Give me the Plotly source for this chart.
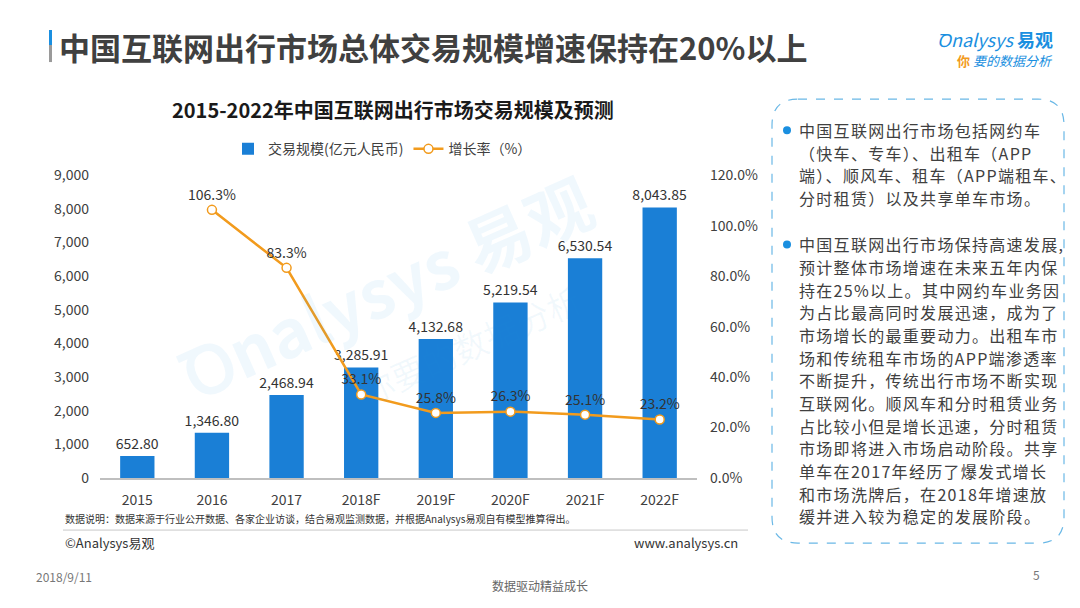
import plotly.graph_objects as go

W, H = 1080, 608

years = ["2015", "2016", "2017", "2018F", "2019F", "2020F", "2021F", "2022F"]
scale_values = [652.80, 1346.80, 2468.94, 3285.91, 4132.68, 5219.54, 6530.54, 8043.85]
growth_rates = [None, 1.063, 0.833, 0.331, 0.258, 0.263, 0.251, 0.232]

left_ticks = [0, 1000, 2000, 3000, 4000, 5000, 6000, 7000, 8000, 9000]
right_ticks = [0, 0.2, 0.4, 0.6, 0.8, 1.0, 1.2]

bar_name = "交易规模(亿元人民币)"
line_name = "增长率（%）"

page_title = "中国互联网出行市场总体交易规模增速保持在20%以上"
chart_title = "2015-2022年中国互联网出行市场交易规模及预测"
note_text = "数据说明：数据来源于行业公开数据、各家企业访谈，结合易观监测数据，并根据Analysys易观自有模型推算得出。"

bullet1_lines = [
    "中国互联网出行市场包括网约车",
    "（快车、专车）、出租车（APP",
    "端）、顺风车、租车（APP端租车、",
    "分时租赁）以及共享单车市场。",
]
bullet2_lines = [
    "中国互联网出行市场保持高速发展,",
    "预计整体市场增速在未来五年内保",
    "持在25%以上。其中网约车业务因",
    "为占比最高同时发展迅速，成为了",
    "市场增长的最重要动力。出租车市",
    "场和传统租车市场的APP端渗透率",
    "不断提升，传统出行市场不断实现",
    "互联网化。顺风车和分时租赁业务",
    "占比较小但是增长迅速，分时租赁",
    "市场即将进入市场启动阶段。共享",
    "单车在2017年经历了爆发式增长",
    "和市场洗牌后，在2018年增速放",
    "缓并进入较为稳定的发展阶段。",
]

FONT = "Microsoft YaHei, Noto Sans CJK SC, sans-serif"
TXT = "#404040"
BLUE = "#1a7fd6"
ORANGE = "#f29b1d"


def px(x):
    return x / W


def py(y):
    # vertical placement (target pixel -> paper fraction), compensating capture offset
    return 1 - (y / 0.965 - 12.5) / H


fig = go.Figure()

fig.add_trace(go.Bar(
    x=years, y=scale_values, name=bar_name,
    marker=dict(color=BLUE, line=dict(width=0)),
    width=0.46,
    texttemplate="%{y:,.2f}", textposition="outside", constraintext="none",
    textfont=dict(size=14, color="#333333", family=FONT),
    cliponaxis=False,
))

fig.add_trace(go.Scatter(
    x=years, y=growth_rates, name=line_name, yaxis="y2",
    mode="lines+markers+text",
    line=dict(color=ORANGE, width=2.5),
    marker=dict(size=9, color="white", line=dict(color=ORANGE, width=1.5)),
    text=[None if g is None else f"{g*100:.1f}%" for g in growth_rates],
    textposition="top center",
    textfont=dict(size=14, color="#333333", family=FONT),
    cliponaxis=False,
))

annotations = []
shapes = []

# watermark
annotations.append(dict(x=px(385), y=py(285), xref="paper", yref="paper",
                        text="<b>Ꝺnalysys 易观</b>", showarrow=False, textangle=-24,
                        font=dict(size=66, color="rgba(40,150,220,0.07)", family=FONT)))
annotations.append(dict(x=px(470), y=py(345), xref="paper", yref="paper",
                        text="你要的数据分析", showarrow=False, textangle=-24,
                        font=dict(size=34, color="rgba(40,150,220,0.06)", family=FONT)))

# page title
annotations.append(dict(x=px(57), y=py(47), xref="paper", yref="paper", xanchor="left",
                        yanchor="middle", text=f"<b>{page_title}</b>", showarrow=False,
                        font=dict(size=31, color="#404040", family=FONT)))
shapes.append(dict(type="rect", xref="paper", yref="paper", x0=px(49), x1=px(52),
                   y0=py(46), y1=py(31), fillcolor="#1a8fe0", line=dict(width=0)))
shapes.append(dict(type="rect", xref="paper", yref="paper", x0=px(49), x1=px(52),
                   y0=py(63), y1=py(46), fillcolor="#9a9a9a", line=dict(width=0)))

# logo
annotations.append(dict(x=px(1055), y=py(40), xref="paper", yref="paper", xanchor="right",
                        yanchor="middle", showarrow=False,
                        text="<i>Ꝺnalysys</i> <b>易观</b>",
                        font=dict(size=18, color="#1a8fe0", family=FONT)))
annotations.append(dict(x=px(1055), y=py(61), xref="paper", yref="paper", xanchor="right",
                        yanchor="middle", showarrow=False,
                        text="<span style='color:#f29b1d'><b>你</b></span> <i>要的数据分析</i>",
                        font=dict(size=13, color="#1a8fe0", family=FONT)))

# chart title
annotations.append(dict(x=px(393), y=py(110), xref="paper", yref="paper", xanchor="center",
                        yanchor="middle", text=f"<b>{chart_title}</b>", showarrow=False,
                        font=dict(size=20, color="#1a1a1a", family=FONT)))

# footnote and footer
annotations.append(dict(x=px(63), y=py(518), xref="paper", yref="paper", xanchor="left",
                        yanchor="middle", text=note_text, showarrow=False,
                        font=dict(size=10, color="#333333", family=FONT)))
shapes.append(dict(type="line", xref="paper", yref="paper", x0=px(63), x1=px(748),
                   y0=py(530), y1=py(530), line=dict(color="#c8c8c8", width=1)))
annotations.append(dict(x=px(63), y=py(542), xref="paper", yref="paper", xanchor="left",
                        yanchor="middle", text="©Analysys易观", showarrow=False,
                        font=dict(size=13, color="#333333", family=FONT)))
annotations.append(dict(x=px(740), y=py(542), xref="paper", yref="paper", xanchor="right",
                        yanchor="middle", text="www.analysys.cn", showarrow=False,
                        font=dict(size=13, color="#333333", family=FONT)))
annotations.append(dict(x=px(34), y=py(576), xref="paper", yref="paper", xanchor="left",
                        yanchor="middle", text="2018/9/11", showarrow=False,
                        font=dict(size=12, color="#777777", family=FONT)))
annotations.append(dict(x=px(1042), y=py(574), xref="paper", yref="paper", xanchor="right",
                        yanchor="middle", text="5", showarrow=False,
                        font=dict(size=12, color="#777777", family=FONT)))
annotations.append(dict(x=px(540), y=py(585), xref="paper", yref="paper", xanchor="center",
                        yanchor="middle", text="数据驱动精益成长", showarrow=False,
                        font=dict(size=12, color="#666666", family=FONT)))

# right text box (dashed rounded rectangle)
bx0, bx1, by0, by1, r = 772, 1064, 100, 543, 26
path = (f"M {px(bx0 + r)} {py(by0)} L {px(bx1 - r)} {py(by0)} "
        f"Q {px(bx1)} {py(by0)} {px(bx1)} {py(by0 + r)} "
        f"L {px(bx1)} {py(by1 - r)} Q {px(bx1)} {py(by1)} {px(bx1 - r)} {py(by1)} "
        f"L {px(bx0 + r)} {py(by1)} Q {px(bx0)} {py(by1)} {px(bx0)} {py(by1 - r)} "
        f"L {px(bx0)} {py(by0 + r)} Q {px(bx0)} {py(by0)} {px(bx0 + r)} {py(by0)} Z")
shapes.append(dict(type="path", xref="paper", yref="paper", path=path,
                   line=dict(color="#6ab8e6", width=1.2, dash="dash")))

line_h = 22.6
for start_y, lines in ((131, bullet1_lines), (245, bullet2_lines)):
    shapes.append(dict(type="circle", xref="paper", yref="paper",
                       x0=px(783), x1=px(791), y0=py(start_y + 4), y1=py(start_y - 4),
                       fillcolor="#1a8fe0", line=dict(width=0)))
    for i, t in enumerate(lines):
        annotations.append(dict(x=px(797), y=py(start_y + i * line_h), xref="paper", yref="paper",
                                xanchor="left", yanchor="middle", align="left",
                                text=f"<span style='letter-spacing:1.3px'>{t}</span>",
                                showarrow=False,
                                font=dict(size=16, color=TXT, family=FONT)))

fig.update_layout(
    width=W, height=H,
    margin=dict(l=0, r=0, t=0, b=0),
    paper_bgcolor="white", plot_bgcolor="white",
    font=dict(family=FONT, color=TXT, size=14),
    showlegend=True,
    legend=dict(orientation="h", x=px(228), y=py(150), xanchor="left", yanchor="middle",
                font=dict(size=14, color=TXT, family=FONT), itemwidth=30,
                bgcolor="rgba(0,0,0,0)", tracegroupgap=0),
    xaxis=dict(domain=[px(100), px(697)], showgrid=False, showline=True,
               linecolor="#bfbfbf", linewidth=1.5, ticks="", ticklabelstandoff=8,
               tickfont=dict(size=14, color=TXT), fixedrange=True),
    yaxis=dict(domain=[py(478), py(176)], range=[0, 9000], tickvals=left_ticks,
               tickformat=",d", showgrid=False, showline=False, zeroline=False, ticks="",
               ticklabelstandoff=10, tickfont=dict(size=14, color=TXT)),
    yaxis2=dict(overlaying="y", side="right", range=[0, 1.2], tickvals=right_ticks,
                tickformat=".1%", showgrid=False, showline=False, zeroline=False, ticks="",
                ticklabelstandoff=12, tickfont=dict(size=14, color=TXT)),
    annotations=annotations,
    shapes=shapes,
    bargap=0.54,
)

fig.write_html(
    "out.html",
    config={"displayModeBar": False},
    post_script="document.body.style.margin='0';document.body.style.padding='0';"
                "document.documentElement.style.overflow='hidden';",
)
